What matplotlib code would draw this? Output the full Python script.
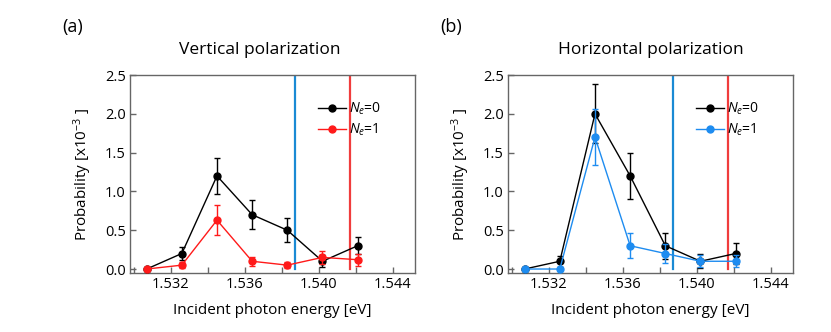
import numpy as np
import matplotlib
matplotlib.use("Agg")
import matplotlib.pyplot as plt
from matplotlib.ticker import MultipleLocator
from matplotlib.lines import Line2D

plt.rcParams['font.family'] = ['Open Sans', 'DejaVu Sans']
plt.rcParams['mathtext.fontset'] = 'custom'
plt.rcParams['mathtext.it'] = 'Open Sans:italic'
plt.rcParams['mathtext.rm'] = 'Open Sans'

# photon energies [eV]
energy = [1.5307, 1.5326, 1.5345, 1.5364, 1.5383, 1.5402, 1.5421]

# vertical polarization
v_ne0 = [0.0, 0.2, 1.2, 0.7, 0.5, 0.1, 0.3]
v_ne0_err = [0.0, 0.09, 0.23, 0.19, 0.155, 0.08, 0.11]
v_ne1 = [0.0, 0.05, 0.63, 0.1, 0.05, 0.15, 0.12]
v_ne1_err = [0.0, 0.04, 0.195, 0.06, 0.04, 0.08, 0.08]

# horizontal polarization
h_ne0 = [0.0, 0.1, 2.0, 1.2, 0.3, 0.1, 0.2]
h_ne0_err = [0.0, 0.07, 0.38, 0.3, 0.17, 0.09, 0.13]
h_ne1 = [0.0, 0.0, 1.7, 0.3, 0.2, 0.1, 0.1]
h_ne1_err = [0.0, 0.02, 0.36, 0.16, 0.12, 0.08, 0.08]

# marker lines
blue_line = 1.5387
red_line = 1.5417

panels = [
    ("(a)", "Vertical polarization", v_ne0, v_ne0_err, v_ne1, v_ne1_err, "#ff1a1a", 260),
    ("(b)", "Horizontal polarization", h_ne0, h_ne0_err, h_ne1, h_ne1_err, "#1e8cf0", 651),
]

fig = plt.figure(figsize=(8.31, 3.32), dpi=100)
lefts = [130 / 831, 508 / 831]
spine_col = "#666666"

for left, (tag, title, y0, e0, y1, e1, col, tx) in zip(lefts, panels):
    ax = fig.add_axes([left, 0.178, 0.343, 0.596])
    ax.plot([blue_line, blue_line], [0, 2.5], color="#1a8ad4", lw=1.6)
    ax.plot([red_line, red_line], [0, 2.5], color="#f03c3c", lw=1.6)
    ax.errorbar(energy, y0, yerr=e0, color="black", marker="o", ms=5, lw=1,
                capsize=2.5, elinewidth=1, zorder=3)
    ax.errorbar(energy, y1, yerr=e1, color=col, marker="o", ms=5, lw=1,
                capsize=2.5, elinewidth=1, zorder=4)
    ax.set_xlim(1.5298, 1.5452)
    ax.set_ylim(-0.05, 2.5)
    ax.xaxis.set_major_locator(MultipleLocator(0.004))
    ax.xaxis.set_minor_locator(MultipleLocator(0.002))
    ax.xaxis.set_major_formatter(plt.FormatStrFormatter("%.3f"))
    ax.yaxis.set_major_locator(MultipleLocator(0.5))
    ax.tick_params(direction="in", length=4, width=1, color=spine_col,
                   labelsize=10.5, pad=3)
    ax.tick_params(which="minor", direction="in", length=4, width=1, color=spine_col)
    for s in ax.spines.values():
        s.set_color(spine_col)
        s.set_linewidth(1)
    ax.set_xlabel("Incident photon energy [eV]", fontsize=11, labelpad=8)
    ax.set_ylabel(r"Probability [x10$^{-3}$ ]", fontsize=11, labelpad=8)
    fig.text(tx / 831, 1 - 50 / 332, title, fontsize=12.5, ha="center", va="center")
    handles = [
        Line2D([], [], color="black", marker="o", ms=5, lw=1, label=r"$N_e$=0"),
        Line2D([], [], color=col, marker="o", ms=5, lw=1, label=r"$N_e$=1"),
    ]
    ax.legend(handles=handles, loc="upper right", bbox_to_anchor=(0.9, 0.9),
              frameon=False, fontsize=10, handlelength=2.0, handletextpad=0.2,
              labelspacing=0.35, borderaxespad=0)
    fig.text(left - 0.082, 0.918, tag, fontsize=13, ha="left", va="center")

fig.savefig("out.png", dpi=100)
